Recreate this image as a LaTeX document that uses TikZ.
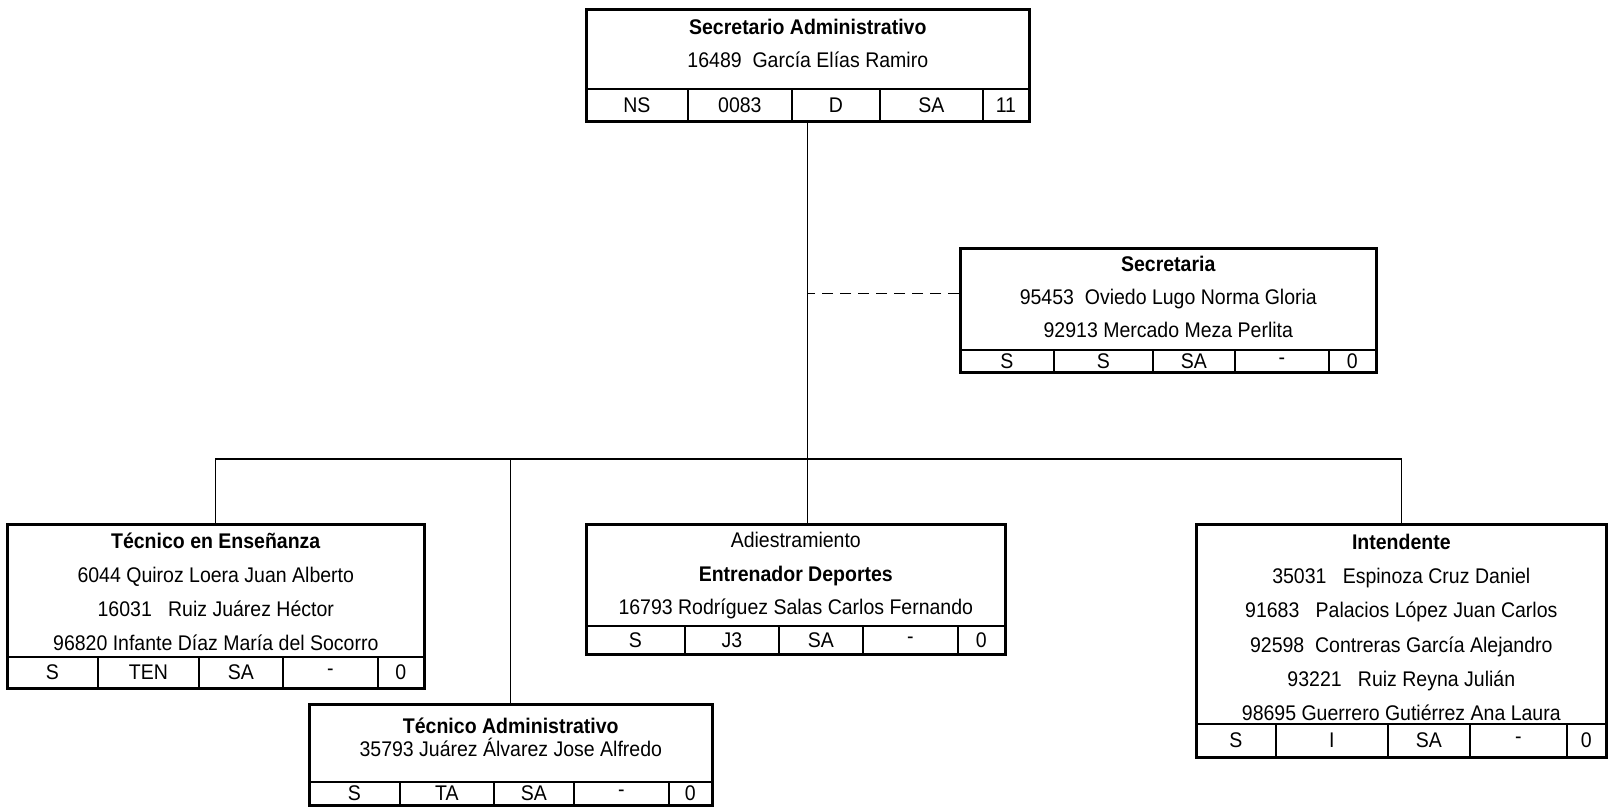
\documentclass[tikz,border=0pt]{standalone}
\usepackage{fontspec}
\setmainfont{Liberation Sans}[FakeStretch=0.92]
\usepackage{tikz}
\usetikzlibrary{positioning,calc}
\tikzset{
  orgbox/.style={draw=black, line width=2.6pt, anchor=north west, inner sep=0pt},
  roletext/.style={anchor=north, align=center, inner sep=0pt},
  cell/.style={draw=black, line width=1.8pt, anchor=north west, inner sep=0pt, font=\fontsize{21.2}{22}\selectfont},
  link/.style={draw=black, line width=1.3pt},
  dashlink/.style={draw=black, line width=1.3pt, dash pattern=on 11pt off 7pt}
}

\begin{document}
\begin{tikzpicture}[x=1pt, y=-1pt]
  \useasboundingbox (0,0) rectangle (1608,806);

  \node[orgbox, minimum width=443pt, minimum height=112pt] (sadmin) at (585,8) {};
  \node[roletext, font=\fontsize{21.2}{33}\selectfont] (sadmin-txt) at ([yshift=-11pt]sadmin.north)
    {\textbf{Secretario Administrativo}\\16489~~García Elías Ramiro};
  \foreach \a/\b/\lbl [count=\i] in {585/687/NS, 687/791/0083, 791/879/D, 879/982/SA, 982/1028/11}
    {\pgfmathsetmacro\w{\b-\a}
     \node[cell, minimum width=\w pt, minimum height=32pt] (sadmin-\i) at (\a,88) {\lbl};}

  \node[orgbox, minimum width=416pt, minimum height=124pt] (secre) at (959,247) {};
  \node[roletext, font=\fontsize{21.2}{33}\selectfont] (secre-txt) at ([yshift=-9pt]secre.north)
    {\textbf{Secretaria}\\95453~~Oviedo Lugo Norma Gloria\\92913 Mercado Meza Perlita};
  \foreach \a/\b/\lbl [count=\i] in {959/1053/S, 1053/1152/S, 1152/1234/SA, 1234/1328/-, 1328/1375/0}
    {\pgfmathsetmacro\w{\b-\a}
     \node[cell, minimum width=\w pt, minimum height=22pt] (secre-\i) at (\a,349) {\lbl};}

  \node[orgbox, minimum width=417pt, minimum height=164pt] (tecens) at (6,523) {};
  \node[roletext, font=\fontsize{21.2}{34}\selectfont] (tecens-txt) at ([yshift=-10pt]tecens.north)
    {\textbf{Técnico en Enseñanza}\\6044 Quiroz Loera Juan Alberto\\16031~~~Ruiz Juárez Héctor\\96820 Infante Díaz María del Socorro};
  \foreach \a/\b/\lbl [count=\i] in {6/97/S, 97/198/TEN, 198/282/SA, 282/377/-, 377/423/0}
    {\pgfmathsetmacro\w{\b-\a}
     \node[cell, minimum width=\w pt, minimum height=31pt] (tecens-\i) at (\a,656) {\lbl};}

  \node[orgbox, minimum width=403pt, minimum height=101pt] (tecadm) at (308,703) {};
  \node[roletext, font=\fontsize{21.2}{23}\selectfont] (tecadm-txt) at ([yshift=-15pt]tecadm.north)
    {\textbf{Técnico Administrativo}\\35793 Juárez Álvarez Jose Alfredo};
  \foreach \a/\b/\lbl [count=\i] in {308/399/S, 399/493/TA, 493/573/SA, 573/668/-, 668/711/0}
    {\pgfmathsetmacro\w{\b-\a}
     \node[cell, minimum width=\w pt, minimum height=23pt] (tecadm-\i) at (\a,781) {\lbl};}

  \node[orgbox, minimum width=419pt, minimum height=130pt] (adiest) at (585,523) {};
  \node[roletext, font=\fontsize{21.2}{33.5}\selectfont] (adiest-txt) at ([yshift=-9pt]adiest.north)
    {Adiestramiento\\\textbf{Entrenador Deportes}\\16793 Rodríguez Salas Carlos Fernando};
  \foreach \a/\b/\lbl [count=\i] in {585/684/S, 684/778/J3, 778/862/SA, 862/957/-, 957/1004/0}
    {\pgfmathsetmacro\w{\b-\a}
     \node[cell, minimum width=\w pt, minimum height=28pt] (adiest-\i) at (\a,625) {\lbl};}

  \node[orgbox, minimum width=410pt, minimum height=233pt] (intend) at (1195,523) {};
  \node[roletext, font=\fontsize{21.2}{34.2}\selectfont] (intend-txt) at ([yshift=-11pt]intend.north)
    {\textbf{Intendente}\\35031~~~Espinoza Cruz Daniel\\91683~~~Palacios López Juan Carlos\\92598~~Contreras García Alejandro\\93221~~~Ruiz Reyna Julián\\98695 Guerrero Gutiérrez Ana Laura};
  \foreach \a/\b/\lbl [count=\i] in {1195/1275/S, 1275/1387/I, 1387/1469/SA, 1469/1566/-, 1566/1605/0}
    {\pgfmathsetmacro\w{\b-\a}
     \node[cell, minimum width=\w pt, minimum height=33pt] (intend-\i) at (\a,723) {\lbl};}

  \coordinate (bus) at (809,459);
  \draw[link] (sadmin.south) -- (sadmin.south |- adiest.north);
  \draw[link] (tecens.north) |- (bus) -| (intend.north);
  \draw[link] (tecadm.north) -- (tecadm.north |- bus);
  \draw[dashlink] ([yshift=17pt]secre.west) -- ([yshift=17pt]secre.west -| sadmin.south);
\end{tikzpicture}
\end{document}
